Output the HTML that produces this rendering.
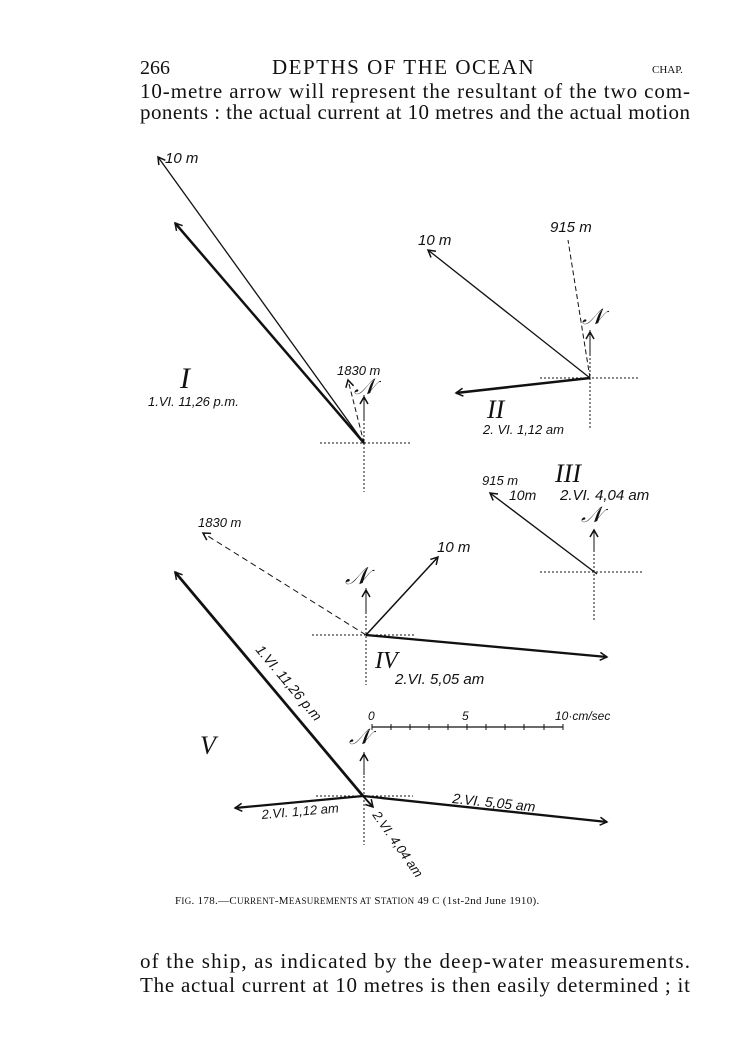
<!DOCTYPE html>
<html><head><meta charset="utf-8"><style>
body{margin:0;background:#fff;}
svg{display:block}
.s{font-family:"Liberation Serif",serif;fill:#111}
.h{font-family:"Liberation Sans",sans-serif;font-style:italic;fill:#111}
</style></head><body>
<svg width="744" height="1050" viewBox="0 0 744 1050" xmlns="http://www.w3.org/2000/svg">
<defs>
<marker id="a" markerWidth="10" markerHeight="10" refX="8" refY="5" orient="auto" markerUnits="userSpaceOnUse"><path d="M1,1 L8,5 L1,9" fill="none" stroke="#111" stroke-width="1.5"/></marker>
</defs>
<text class="s" x="140" y="74" font-size="20">266</text>
<text class="s" x="272" y="74" font-size="21" letter-spacing="1.5">DEPTHS OF THE OCEAN</text>
<text class="s" x="652" y="73" font-size="11">CHAP.</text>
<text class="s" x="140" y="98" font-size="21" textLength="550" lengthAdjust="spacing">10-metre arrow will represent the resultant of the two com-</text>
<text class="s" x="140" y="119" font-size="21" textLength="550" lengthAdjust="spacing">ponents : the actual current at 10 metres and the actual motion</text>

<g stroke="#111" fill="none">
<!-- I -->
<line x1="320" y1="443" x2="410" y2="443" stroke-dasharray="2,2"/>
<line x1="364" y1="395" x2="364" y2="492" stroke-dasharray="2,2"/>
<line x1="364" y1="443" x2="158" y2="157" stroke-width="1.3" marker-end="url(#a)"/>
<line x1="364" y1="443" x2="175" y2="223" stroke-width="2.5" marker-end="url(#a)"/>
<line x1="364" y1="443" x2="348" y2="380" stroke-dasharray="5,3" marker-end="url(#a)"/>
<line x1="364" y1="420" x2="364" y2="397" marker-end="url(#a)"/>
<!-- II -->
<line x1="540" y1="378" x2="640" y2="378" stroke-dasharray="2,2"/>
<line x1="590" y1="330" x2="590" y2="430" stroke-dasharray="2,2"/>
<line x1="590" y1="378" x2="428" y2="250" stroke-width="1.3" marker-end="url(#a)"/>
<line x1="590" y1="378" x2="456" y2="393" stroke-width="2.5" marker-end="url(#a)"/>
<line x1="590" y1="378" x2="568" y2="240" stroke-dasharray="5,3"/>
<line x1="590" y1="355" x2="590" y2="332" marker-end="url(#a)"/>
<!-- III -->
<line x1="540" y1="572" x2="642" y2="572" stroke-dasharray="2,2"/>
<line x1="594" y1="530" x2="594" y2="622" stroke-dasharray="2,2"/>
<line x1="597" y1="574" x2="490" y2="493" stroke-width="1.4" marker-end="url(#a)"/>
<line x1="594" y1="550" x2="594" y2="530" marker-end="url(#a)"/>
<!-- IV -->
<line x1="312" y1="635" x2="416" y2="635" stroke-dasharray="2,2"/>
<line x1="366" y1="588" x2="366" y2="685" stroke-dasharray="2,2"/>
<line x1="366" y1="635" x2="203" y2="533" stroke-dasharray="6,4" marker-end="url(#a)"/>
<line x1="366" y1="635" x2="438" y2="557" stroke-width="1.5" marker-end="url(#a)"/>
<line x1="366" y1="635" x2="607" y2="657" stroke-width="2.3" marker-end="url(#a)"/>
<line x1="366" y1="612" x2="366" y2="590" marker-end="url(#a)"/>
<!-- V -->
<line x1="316" y1="796" x2="413" y2="796" stroke-dasharray="2,2"/>
<line x1="364" y1="752" x2="364" y2="845" stroke-dasharray="2,2"/>
<line x1="363" y1="796" x2="175" y2="572" stroke-width="2.8" marker-end="url(#a)"/>
<line x1="363" y1="796" x2="235" y2="808" stroke-width="2.3" marker-end="url(#a)"/>
<line x1="363" y1="796" x2="607" y2="822" stroke-width="2.3" marker-end="url(#a)"/>
<line x1="363" y1="796" x2="373" y2="807" stroke-width="2" marker-end="url(#a)"/>
<line x1="364" y1="775" x2="364" y2="754" marker-end="url(#a)"/>
<!-- scale -->
<line x1="372" y1="727" x2="563" y2="727" stroke-width="1.2"/>
<path d="M372,724v6M391,724v6M410,724v6M429,724v6M448,724v6M467,724v6M486,724v6M505,724v6M524,724v6M544,724v6M563,724v6" stroke-width="1"/>
</g>

<g class="h">
<text x="165" y="163" font-size="15">10 m</text>
<text x="337" y="375" font-size="13">1830 m</text>
<text x="354" y="394" font-size="22" font-family="Liberation Serif">𝒩</text>
<text x="180" y="388" font-size="30" font-family="Liberation Serif">I</text>
<text x="148" y="406" font-size="13">1.VI. 11,26 p.m.</text>
<text x="418" y="245" font-size="15">10 m</text>
<text x="550" y="232" font-size="15">915 m</text>
<text x="582" y="324" font-size="22" font-family="Liberation Serif">𝒩</text>
<text x="487" y="418" font-size="26" font-family="Liberation Serif">II</text>
<text x="483" y="434" font-size="13">2. VI. 1,12 am</text>
<text x="482" y="485" font-size="13">915 m</text>
<text x="555" y="482" font-size="26" font-family="Liberation Serif">III</text>
<text x="509" y="500" font-size="14">10m</text>
<text x="560" y="500" font-size="15">2.VI. 4,04 am</text>
<text x="581" y="522" font-size="22" font-family="Liberation Serif">𝒩</text>
<text x="345" y="584" font-size="24" font-family="Liberation Serif">𝒩</text>
<text x="437" y="552" font-size="15">10 m</text>
<text x="198" y="527" font-size="13">1830 m</text>
<text x="375" y="668" font-size="24" font-family="Liberation Serif">IV</text>
<text x="395" y="684" font-size="15">2.VI. 5,05 am</text>
<text x="368" y="720" font-size="12">0</text>
<text x="462" y="720" font-size="12">5</text>
<text x="555" y="720" font-size="12">10·cm/sec</text>
<text x="200" y="754" font-size="26" font-family="Liberation Serif">V</text>
<text x="349" y="744" font-size="22" font-family="Liberation Serif">𝒩</text>
<text x="255" y="650" font-size="14" transform="rotate(50 255 650)">1.VI. 11,26 p.m</text>
<text x="262" y="819" font-size="13" transform="rotate(-5 262 819)">2.VI. 1,12 am</text>
<text x="452" y="803" font-size="14" transform="rotate(6 452 803)">2.VI. 5,05 am</text>
<text x="372" y="815" font-size="13" transform="rotate(55 372 815)">2.VI. 4,04 am</text>
</g>

<text class="s" x="175" y="904" font-size="11" letter-spacing="0.3">F<tspan font-size="9">IG</tspan>. 178.—C<tspan font-size="9">URRENT</tspan>-M<tspan font-size="9">EASUREMENTS AT</tspan> S<tspan font-size="9">TATION</tspan> 49 C (1st-2nd June 1910).</text>
<text class="s" x="140" y="968" font-size="21" textLength="550" lengthAdjust="spacing">of the ship, as indicated by the deep-water measurements.</text>
<text class="s" x="140" y="992" font-size="21" textLength="550" lengthAdjust="spacing">The actual current at 10 metres is then easily determined ; it</text>
</svg>
</body></html>
